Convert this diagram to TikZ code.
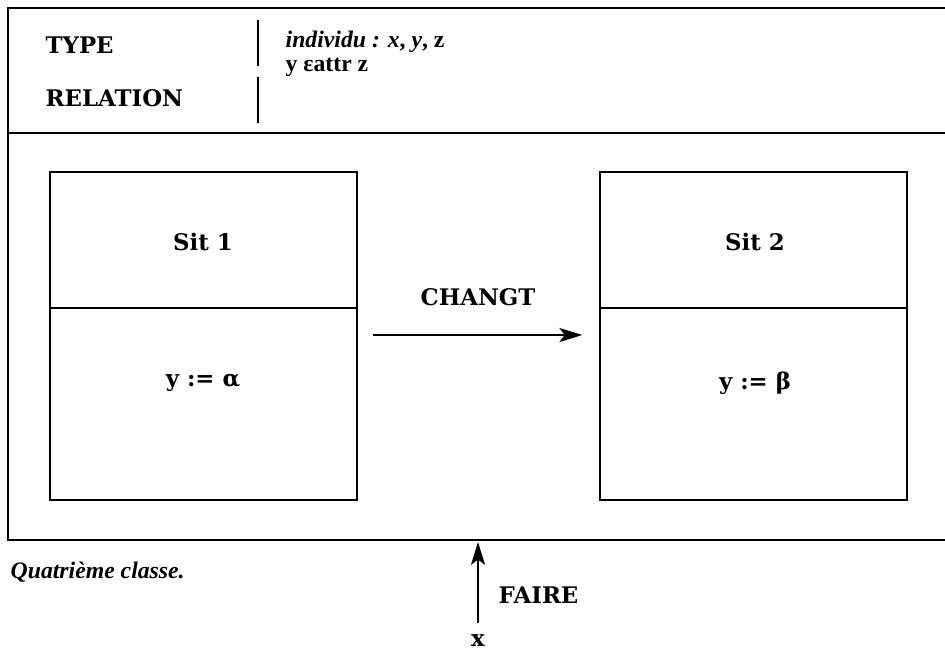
\documentclass[tikz,border=0pt]{standalone}
\usepackage{fontspec}
\setmainfont{DejaVu Serif}
\newfontfamily\itfont{Liberation Serif}
\usetikzlibrary{arrows.meta}

\tikzset{
  lbl/.style={font=\fontsize{13}{15}\selectfont\bfseries, inner sep=0pt},
  itlbl/.style={font=\itfont\fontsize{13.5}{15}\selectfont\bfseries, inner sep=0pt},
  sitbox/.style={draw, line width=0.9pt, minimum width=6.14cm, minimum height=6.56cm, inner sep=0pt},
  fleche/.style={-{Stealth[length=13pt,width=8pt,inset=3pt]}, line width=0.9pt},
}

\begin{document}
\begin{tikzpicture}[x=0.02cm, y=-0.02cm, line width=0.8pt]
    \useasboundingbox (0,0) rectangle (945,653);

    % cadre extérieur (ouvert à droite)
    \draw (945,8) -- (8,8) -- (8,540) -- (945,540);
    \draw (8,133) -- (945,133);

    % en-tête : TYPE / RELATION
    \node[lbl, anchor=west] (type) at (45,45) {TYPE};
    \node[lbl, anchor=west] (rel) at (45,98) {RELATION};
    \draw (258,20) -- (258,66);
    \draw (258,77) -- (258,123);
    \node[itlbl, anchor=west] (indiv) at (285,42) {\textit{individu :} \textit{x}, \textit{y}, z};
    \node[itlbl, anchor=west] (attr) at (285,67) {y εattr z};

    % les deux situations
    \node[sitbox] (sit1) at (203.5,336) {};
    \node[sitbox] (sit2) at (753.5,336) {};
    \draw (50,308) -- (357,308);
    \draw (600,308) -- (907,308);
    \node[lbl] (s1) at (203,242) {Sit 1};
    \node[lbl] (s2) at (755,242) {Sit 2};
    \node[lbl] (v1) at (203,383) {y := α};
    \node[lbl] (v2) at (755,383) {y := β};

    % changement
    \draw[fleche] ([xshift=15*0.02cm]sit1.east |- 0,335) -- ([xshift=-17*0.02cm]sit2.west |- 0,335);
    \node[lbl] (chg) at (478,297) {CHANGT};

    % faire
    \node[lbl] (agent) at (478,641) {x};
    \coordinate (cadre) at (478,542);
    \draw[fleche] ([yshift=11*0.02cm]agent.north) -- (cadre);
    \node[lbl, anchor=west] (faire) at (498,595) {FAIRE};

    % légende
    \node[itlbl, anchor=west] (leg) at (10,572) {\itshape Quatrième classe.};
\end{tikzpicture}
\end{document}
